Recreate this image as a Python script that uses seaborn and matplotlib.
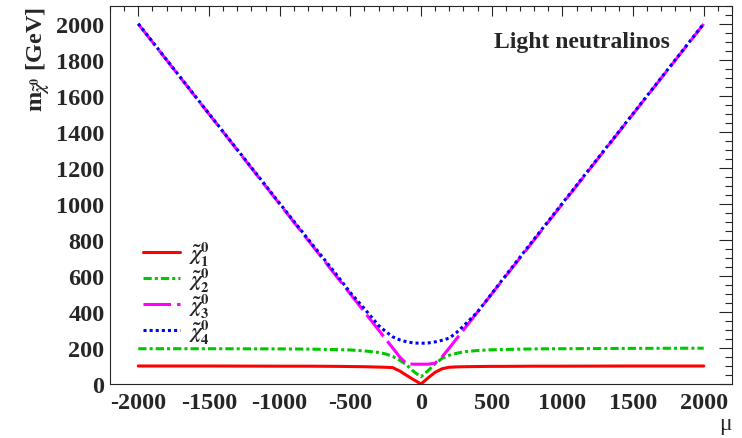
import numpy as np
import pandas as pd
import matplotlib
matplotlib.use("Agg")
import matplotlib.pyplot as plt
import seaborn as sns
from matplotlib.ticker import MultipleLocator

# ---- data ----
mu = [-2000, -1500, -1000, -800, -600, -500, -400, -300, -250, -200, -150, -100, -50, 0,
      50, 100, 150, 200, 250, 300, 400, 500, 600, 800, 1000, 1500, 2000]
chi1 = [100, 100, 99, 99, 98, 97, 96, 94, 93, 91, 72, 47, 23, 0,
        34, 65, 85, 93, 95, 96, 97, 98, 98, 99, 99, 100, 100]
chi2 = [196, 196, 195, 194, 191, 189, 184, 175, 167, 153, 132, 105, 68, 40,
        74, 112, 143, 160, 170, 179, 186, 190, 192, 195, 196, 198, 199]
chi3 = [2000, 1500, 1000, 800, 600, 500, 400, 300, 250, 200, 150, 111, 110, 110,
        110, 116, 152, 200, 250, 300, 400, 500, 600, 800, 1000, 1500, 2000]
chi4 = [2002, 1502, 1004, 806, 610, 508, 418, 325, 292, 262, 245, 234, 228, 226,
        228, 234, 243, 255, 285, 322, 400, 502, 604, 805, 1004, 1502, 2002]
labels = [r'$\tilde{\chi}^{0}_{1}$', r'$\tilde{\chi}^{0}_{2}$',
          r'$\tilde{\chi}^{0}_{3}$', r'$\tilde{\chi}^{0}_{4}$']
title = "Light neutralinos"

sns.set_style("white")
plt.rcParams['font.family'] = ['Liberation Serif', 'DejaVu Serif']
plt.rcParams['font.weight'] = 'bold'
plt.rcParams['mathtext.fontset'] = 'stix'
plt.rcParams['axes.linewidth'] = 0.8
plt.rcParams['axes.unicode_minus'] = False

fig = plt.figure(figsize=(7.42, 4.39), dpi=100)
ax = fig.add_axes([110/742, 54/439, 622/742, 378/439])

series = [chi1, chi2, chi3, chi4]
colors = ['#ff0000', '#00c800', '#ff00ff', '#0000ff']
styles = ['-', (0, (2.7, 1.0, 1.0, 1.0)), (0, (9, 2)), (0, (1, 1))]
for y, c, ls, lab in zip(series, colors, styles, labels):
    sns.lineplot(x=mu, y=y, ax=ax, color=c, lw=2.2, linestyle=ls, label=lab,
                 sort=False, estimator=None)

ax.set_xlim(-2200, 2200)
ax.set_ylim(0, 2100)
ax.xaxis.set_major_locator(MultipleLocator(500))
ax.xaxis.set_minor_locator(MultipleLocator(100))
ax.yaxis.set_major_locator(MultipleLocator(200))
ax.yaxis.set_minor_locator(MultipleLocator(50))
ax.tick_params(which='both', direction='in', top=True, right=True, width=0.8,
               labelsize=17.5)
ax.tick_params(axis='x', which='major', length=7.2, pad=6)
ax.tick_params(axis='x', which='minor', length=3.6)
ax.tick_params(axis='y', which='major', length=9.4, pad=4)
ax.tick_params(axis='y', which='minor', length=5)
for lab in ax.get_xticklabels() + ax.get_yticklabels():
    lab.set_fontweight('bold')

ax.set_ylabel(r'm$_{\tilde{\chi}^{0}}$ [GeV]', loc='top', fontsize=17.5,
              fontweight='bold', labelpad=3)
ax.set_xlabel('μ', loc='right', fontsize=17, fontweight='normal', labelpad=0)

ax.text(0.90, 0.891, title, transform=ax.transAxes, ha='right', va='baseline',
        fontsize=17, fontweight='bold')

leg = ax.legend(loc='upper left', bbox_to_anchor=(0.05, 0.388), frameon=False,
                fontsize=15, handlelength=1.75, labelspacing=-0.1,
                handletextpad=0.45, borderpad=0.1, borderaxespad=0)

fig.savefig("out.png", dpi=100)
